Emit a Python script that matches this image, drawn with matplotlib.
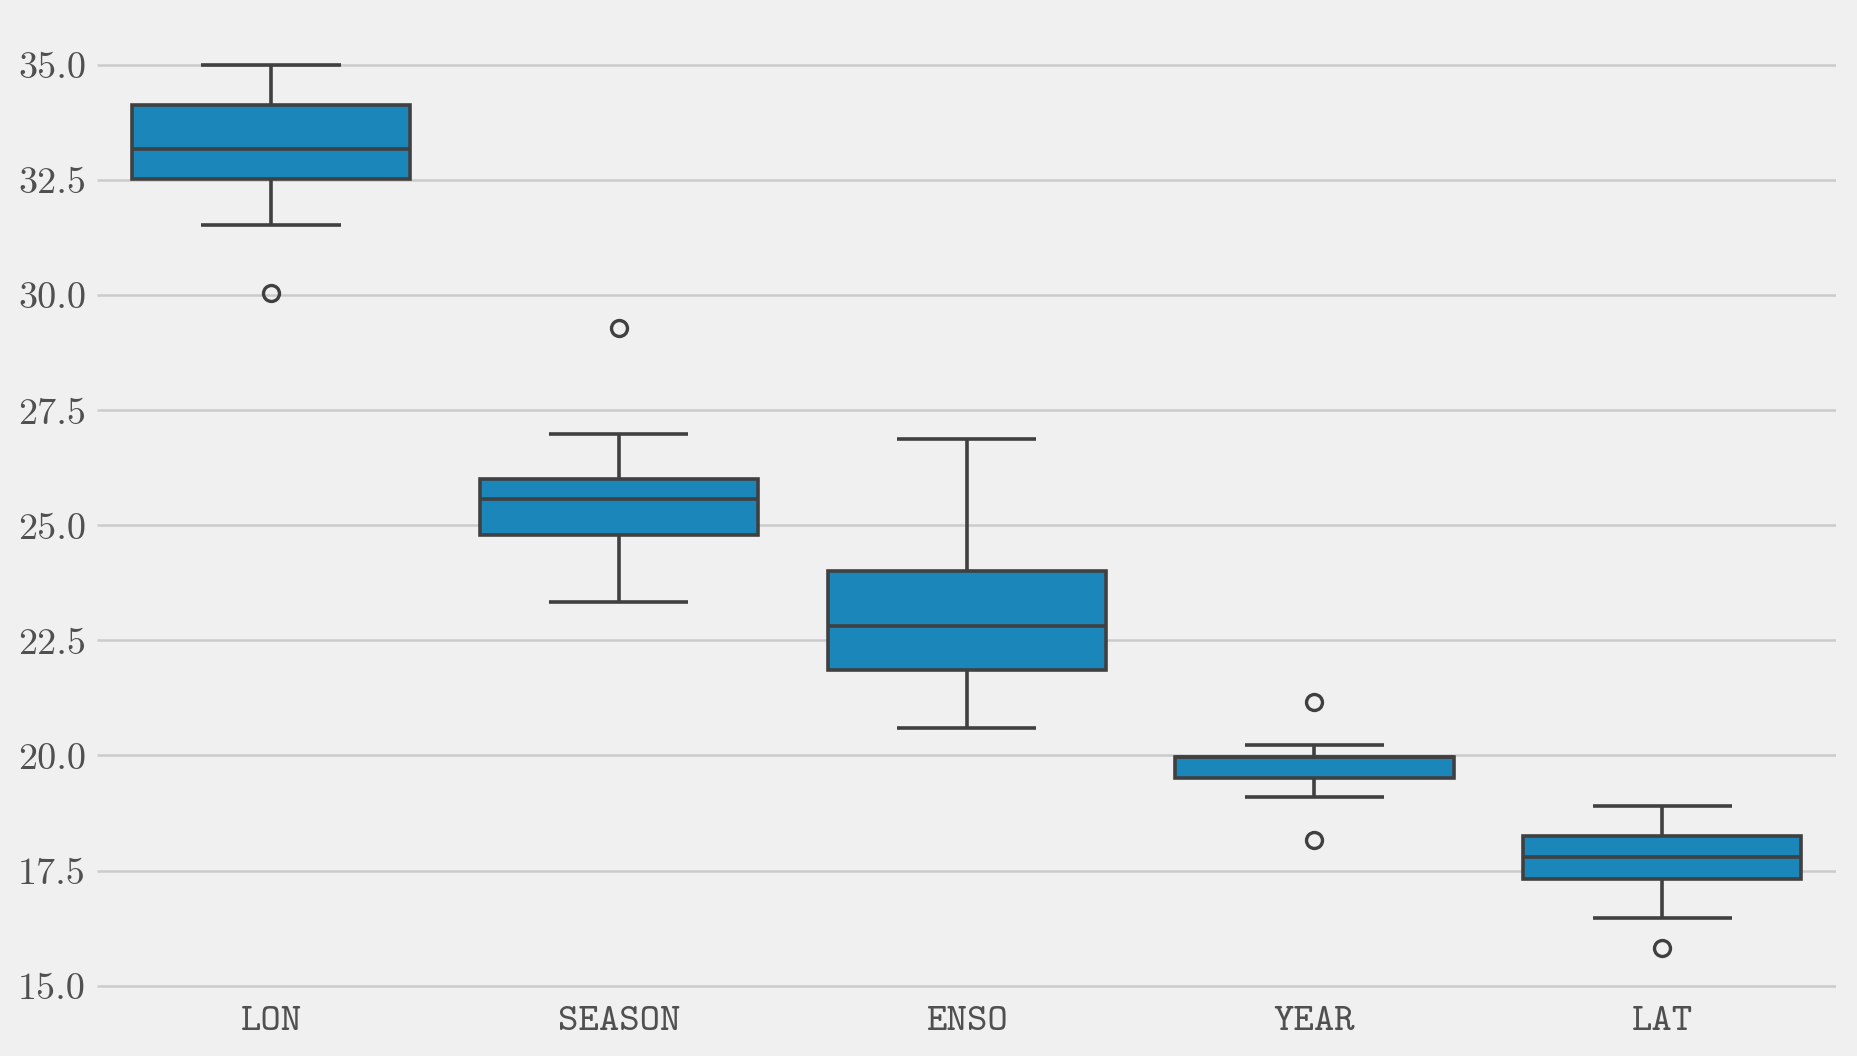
import matplotlib.pyplot as plt

# columns shown on the x axis
categories = ["LON", "SEASON", "ENSO", "YEAR", "LAT"]

# box statistics
whislo = [31.53, 23.33, 20.60, 19.10, 16.47]
q1 = [32.53, 24.79, 21.86, 19.51, 17.32]
med = [33.17, 25.57, 22.81, 19.96, 17.80]
q3 = [34.13, 26.00, 24.00, 19.96, 18.26]
whishi = [35.00, 26.98, 26.88, 20.23, 18.90]
fliers = [[30.06], [29.29], [], [21.17, 18.16], [15.82]]

plt.style.use("fivethirtyeight")

fig = plt.figure(figsize=(18.57, 10.56), dpi=100, facecolor="#f0f0f0")
ax = fig.add_axes([0.0523, 0.0606, 0.9365, 0.9194])
ax.set_facecolor("#f0f0f0")

stats = []
for i, name in enumerate(categories):
    stats.append(dict(label=name, whislo=whislo[i], q1=q1[i], med=med[i],
                      q3=q3[i], whishi=whishi[i], fliers=fliers[i]))

line_c = "#404040"
lw = 2.6
ax.bxp(stats, positions=range(len(categories)), widths=0.8, capwidths=0.4,
       patch_artist=True,
       boxprops=dict(facecolor="#1a86b9", edgecolor=line_c, linewidth=lw),
       medianprops=dict(color=line_c, linewidth=lw),
       whiskerprops=dict(color=line_c, linewidth=lw),
       capprops=dict(color=line_c, linewidth=lw),
       flierprops=dict(marker="o", markerfacecolor="none", markeredgecolor=line_c,
                       markersize=11.5, markeredgewidth=2.4))

ax.set_xlim(-0.5, len(categories) - 0.5)
ax.set_ylim(14.86, 35.96)
ax.set_yticks([15, 17.5, 20, 22.5, 25, 27.5, 30, 32.5, 35])
ax.set_yticklabels([f"{v:.1f}" for v in ax.get_yticks()])
ax.grid(False, axis="x")
ax.grid(True, axis="y", color="#cbcbcb", linewidth=1.8)
ax.set_axisbelow(True)
for s in ax.spines.values():
    s.set_visible(False)

ax.tick_params(axis="both", length=0, colors="#505050")
ax.tick_params(axis="y", pad=8)
ax.tick_params(axis="x", pad=10)
for t in ax.get_yticklabels():
    t.set_fontfamily("cmr10")
    t.set_fontsize(27.5)
for t in ax.get_xticklabels():
    t.set_fontfamily("cmtt10")
    t.set_fontsize(28)

fig.savefig("out.png", dpi=100, facecolor="#f0f0f0")
